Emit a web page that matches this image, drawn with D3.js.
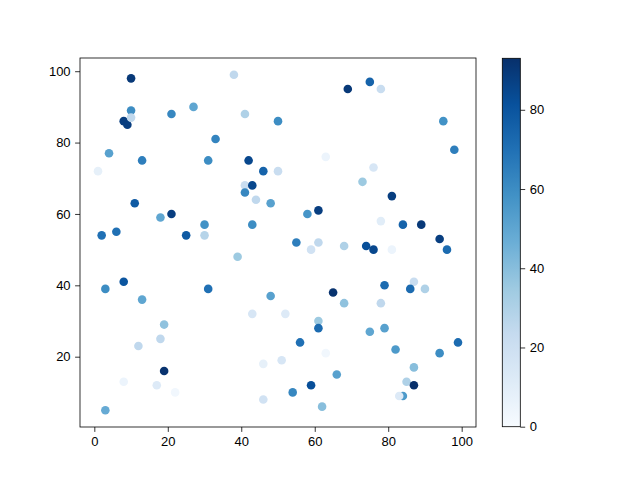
<!DOCTYPE html>
<html><head><meta charset="utf-8">
<script src="https://cdn.jsdelivr.net/npm/d3@7"></script>
<style>body{margin:0;background:#fff}svg{display:block}</style>
</head><body>
<svg id="c" width="640" height="480"></svg>
<script>
const xs = [10,38,10,27,21,41,50,8,9,10,33,4,13,31,42,46,50,1,41,43,41,44,48,11,21,18,30,43,2,6,25,30,69,75,78,95,98,63,76,73,81,58,61,78,84,89,94,55,61,59,68,74,76,81,96,79,87,86,90,65,68,78,52,61,61,75,79,56,99,82,94,63,51,87,66,59,85,87,54,84,83,62,39,8,3,31,48,13,43,19,18,12,19,8,17,22,46,46,3];
const ys = [98,99,89,90,88,88,86,86,85,87,81,77,75,75,75,72,72,72,68,68,66,64,63,63,60,59,57,57,54,55,54,54,95,97,95,86,78,76,73,69,65,60,61,58,57,57,53,52,52,50,51,51,50,50,50,40,41,39,39,38,35,35,32,30,28,27,28,24,24,22,21,21,19,17,15,12,13,12,10,9,9,6,48,41,39,39,37,36,32,29,25,23,16,13,12,10,18,8,5];
const cs = [90,25,60,50,62,30,60,88,88,25,63,52,65,60,85,75,22,8,22,85,62,25,52,78,88,50,58,60,70,70,78,28,90,75,22,58,65,5,15,35,88,57,88,10,75,90,88,65,25,18,30,82,85,5,72,72,22,72,30,92,38,25,12,35,72,50,52,70,72,55,60,3,15,40,52,82,30,93,62,55,12,40,35,80,60,70,52,50,15,38,25,25,92,5,12,3,8,18,48];
const cbTicks = [0,20,40,60,80];
const xTicks = [0,20,40,60,80,100];
const yTicks = [20,40,60,80,100];
const bluesStops = ["#f7fbff","#deebf7","#c6dbef","#9ecae1","#6baed6","#4292c6","#2171b5","#08519c","#08306b"];

const svg = d3.select("#c");
const font = "'Liberation Sans', Arial, sans-serif";
const L=80, R=476, T=58, B=427;
const x = d3.scaleLinear().domain([-3.9,103.9]).range([L,R]);
const y = d3.scaleLinear().domain([0.3,103.7]).range([B,T]);
const vmax = d3.max(cs);
const color = d3.scaleLinear()
  .domain(bluesStops.map((_,i)=>i/(bluesStops.length-1)*vmax))
  .range(bluesStops).interpolate(d3.interpolateRgb).clamp(true);

const pts = xs.map((v,i)=>({x:v,y:ys[i],c:cs[i]}));
svg.append("g").selectAll("circle").data(pts).join("circle")
  .attr("cx",d=>x(d.x)).attr("cy",d=>y(d.y)).attr("r",4.3)
  .attr("fill",d=>color(d.c));

const gx = svg.append("g").attr("transform",`translate(0,${B})`)
  .call(d3.axisBottom(x).tickValues(xTicks).tickSize(4.9).tickPadding(4.5).tickFormat(d3.format("d")));
const gy = svg.append("g").attr("transform",`translate(${L},0)`)
  .call(d3.axisLeft(y).tickValues(yTicks).tickSize(4.9).tickPadding(4.5).tickFormat(d3.format("d")));
[gx,gy].forEach(g=>{
  g.select(".domain").remove();
  g.selectAll("line").attr("stroke","#000").attr("stroke-width",0.8);
  g.selectAll("text").attr("font-family",font).attr("font-size",13).attr("fill","#000");
});
svg.append("rect").attr("x",L).attr("y",T).attr("width",R-L).attr("height",B-T)
  .attr("fill","none").attr("stroke","#000").attr("stroke-width",0.8);

// colorbar
const cbL=502.3, cbR=520.3, cbT=58.3, cbB=426.7;
const cy = d3.scaleLinear().domain([0,vmax]).range([cbB,cbT]);
const grad = svg.append("defs").append("linearGradient").attr("id","cbg")
  .attr("x1",0).attr("y1",1).attr("x2",0).attr("y2",0);
bluesStops.forEach((c,i)=>grad.append("stop").attr("offset",i/(bluesStops.length-1)).attr("stop-color",c));
svg.append("rect").attr("x",cbL).attr("y",cbT).attr("width",cbR-cbL).attr("height",cbB-cbT)
  .attr("fill","url(#cbg)").attr("stroke","#000").attr("stroke-width",0.8);
const gc = svg.append("g").attr("transform",`translate(${cbR},0)`)
  .call(d3.axisRight(cy).tickValues(cbTicks).tickSize(4.9).tickPadding(4.5).tickFormat(d3.format("d")));
gc.select(".domain").remove();
gc.selectAll("line").attr("stroke","#000").attr("stroke-width",0.8);
gc.selectAll("text").attr("font-family",font).attr("font-size",13).attr("fill","#000");
</script>
</body></html>
